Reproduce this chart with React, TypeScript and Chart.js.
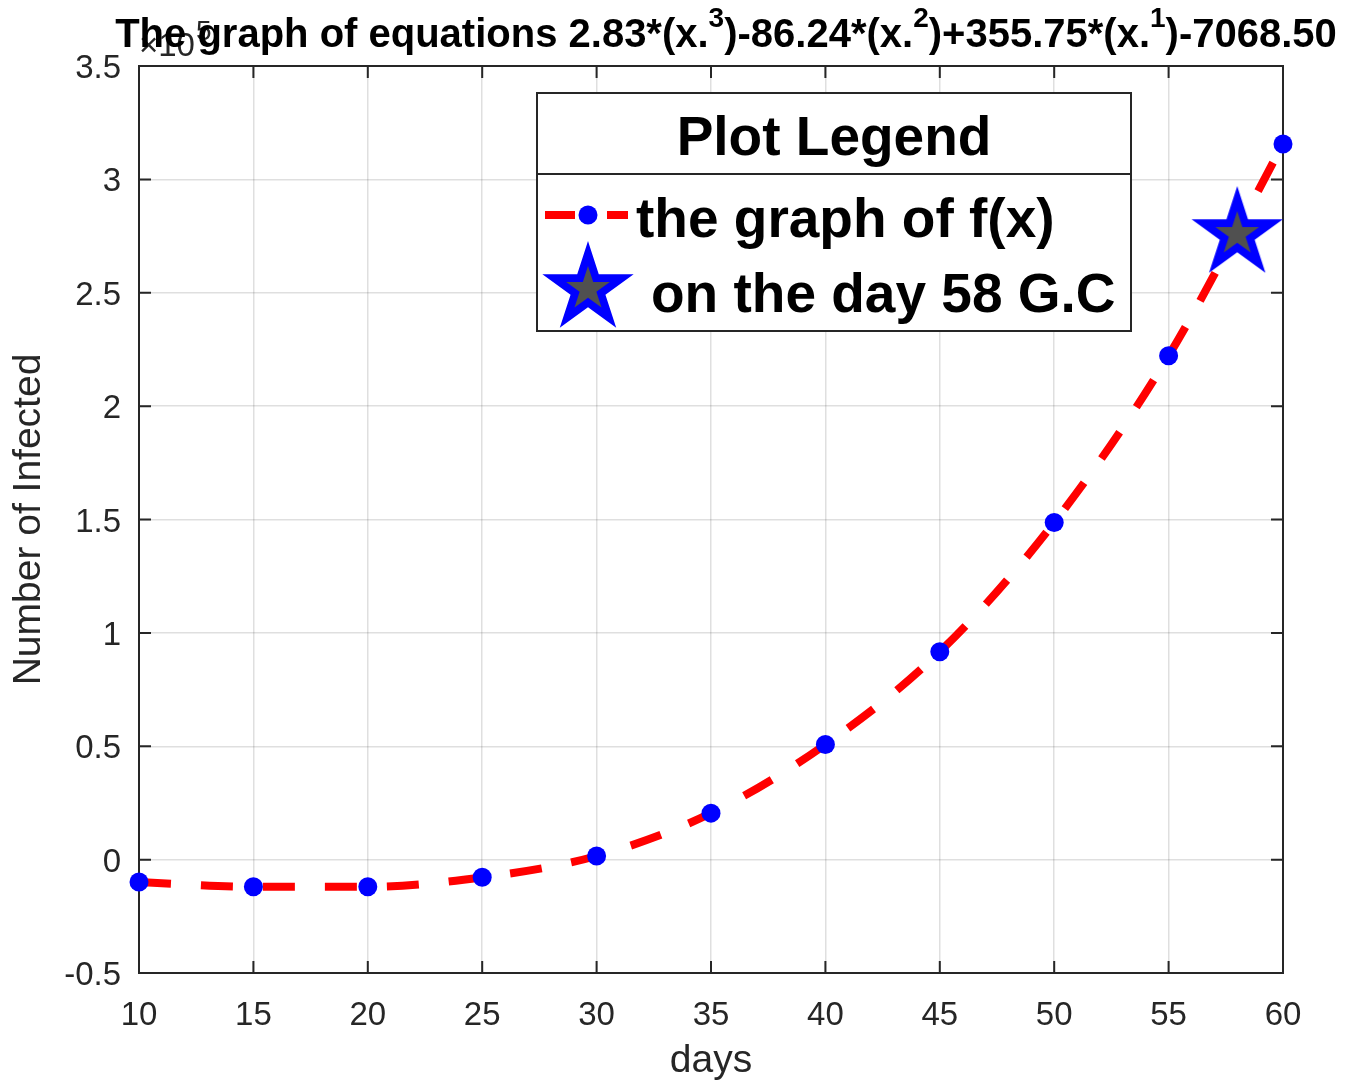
import React, { useEffect, useRef } from "react";
import { Chart, registerables } from "chart.js";

Chart.register(...registerables);

// ---- data ----
const days = [10, 15, 20, 25, 30, 35, 40, 45, 50, 55, 60];
const infected = [-9900, -12000, -12000, -7800, 1600, 20500, 50800, 91700, 148700, 222200, 315600];
const highlightDay = [58];
const highlightValue = [275900];

const xMin = 10;
const xMax = 60;
const xStep = 5;
const yMin = -50000;
const yMax = 350000;
const yStep = 50000;
const yScaleFactor = 100000;

const titleParts = [
  { t: "The graph of equations 2.83*(x.", sup: false },
  { t: "3", sup: true },
  { t: ")-86.24*(x.", sup: false },
  { t: "2", sup: true },
  { t: ")+355.75*(x.", sup: false },
  { t: "1", sup: true },
  { t: ")-7068.50", sup: false },
];
const exponentBase = "\u00d710";
const exponentPower = "5";
const legendTitle = "Plot Legend";
const seriesLabels = ["the graph of f(x)", "on the day 58 G.C"];
const xTitle = "days";
const yTitle = "Number of Infected";

// ---- styles ----
const FONT = '"Liberation Sans", Arial, Helvetica, sans-serif';
const AXIS = "#262626";
const RED = "#ff0000";
const BLUE = "#0000ff";
const GRAY = "#505050";

function starPath(ctx: CanvasRenderingContext2D, cx: number, cy: number, R: number, r: number) {
  ctx.beginPath();
  for (let i = 0; i < 10; i++) {
    const a = -Math.PI / 2 + (i * Math.PI) / 5;
    const rad = i % 2 === 0 ? R : r;
    const px = cx + rad * Math.cos(a);
    const py = cy + rad * Math.sin(a);
    if (i === 0) ctx.moveTo(px, py);
    else ctx.lineTo(px, py);
  }
  ctx.closePath();
}

function makeStar(): HTMLCanvasElement {
  const c = document.createElement("canvas");
  c.width = 110;
  c.height = 110;
  const g = c.getContext("2d")!;
  starPath(g, 55, 55, 48, 48 * 0.382);
  g.fillStyle = BLUE;
  g.fill();
  starPath(g, 55, 55, 23, 23 * 0.382);
  g.fillStyle = GRAY;
  g.fill();
  return c;
}

export default function App() {
  const ref = useRef<HTMLCanvasElement | null>(null);

  useEffect(() => {
    if (!ref.current) return;
    const star = makeStar();

    const framePlugin = {
      id: "frame",
      beforeDatasetsDraw(chart: any) {
        const { ctx, chartArea: a, scales } = chart;
        const tl = 12;
        ctx.save();
        ctx.strokeStyle = AXIS;
        ctx.lineWidth = 2;
        ctx.beginPath();
        scales.x.ticks.forEach((t: any) => {
          const px = scales.x.getPixelForValue(t.value);
          ctx.moveTo(px, a.bottom);
          ctx.lineTo(px, a.bottom - tl);
          ctx.moveTo(px, a.top);
          ctx.lineTo(px, a.top + tl);
        });
        scales.y.ticks.forEach((t: any) => {
          const py = scales.y.getPixelForValue(t.value);
          ctx.moveTo(a.left, py);
          ctx.lineTo(a.left + tl, py);
          ctx.moveTo(a.right, py);
          ctx.lineTo(a.right - tl, py);
        });
        ctx.stroke();
        ctx.strokeRect(a.left, a.top, a.right - a.left, a.bottom - a.top);
        ctx.restore();
      },
    };

    const annotPlugin = {
      id: "annot",
      afterDraw(chart: any) {
        const { ctx } = chart;
        ctx.save();
        // exponent label
        ctx.fillStyle = AXIS;
        ctx.textAlign = "left";
        ctx.textBaseline = "alphabetic";
        ctx.font = `33px ${FONT}`;
        ctx.fillText(exponentBase, 139, 56);
        const wb = ctx.measureText(exponentBase).width;
        ctx.font = `28px ${FONT}`;
        ctx.fillText(exponentPower, 139 + wb + 1, 40);

        // title
        ctx.fillStyle = "#000";
        const mainFont = `bold 40px ${FONT}`;
        const supFont = `bold 28px ${FONT}`;
        let total = 0;
        titleParts.forEach((p) => {
          ctx.font = p.sup ? supFont : mainFont;
          total += ctx.measureText(p.t).width;
        });
        let x = 726 - total / 2;
        titleParts.forEach((p) => {
          ctx.font = p.sup ? supFont : mainFont;
          ctx.fillText(p.t, x, p.sup ? 27 : 47);
          x += ctx.measureText(p.t).width;
        });

        // legend
        const bx = 537, by = 93, bw = 594, bh = 238, div = 174;
        ctx.fillStyle = "#fff";
        ctx.fillRect(bx, by, bw, bh);
        ctx.strokeStyle = AXIS;
        ctx.lineWidth = 2;
        ctx.strokeRect(bx, by, bw, bh);
        ctx.beginPath();
        ctx.moveTo(bx, div);
        ctx.lineTo(bx + bw, div);
        ctx.stroke();

        ctx.fillStyle = "#000";
        ctx.font = `bold 55px ${FONT}`;
        ctx.textAlign = "center";
        ctx.fillText(legendTitle, bx + bw / 2, 155);

        // item 1
        const ds = chart.data.datasets[1];
        ctx.strokeStyle = ds.borderColor;
        ctx.lineWidth = ds.borderWidth;
        ctx.setLineDash([30, 32]);
        ctx.lineCap = "butt";
        ctx.beginPath();
        ctx.moveTo(545, 215);
        ctx.lineTo(628, 215);
        ctx.stroke();
        ctx.setLineDash([]);
        ctx.fillStyle = ds.pointBackgroundColor;
        ctx.beginPath();
        ctx.arc(588, 215, ds.pointRadius, 0, Math.PI * 2);
        ctx.fill();

        ctx.fillStyle = "#000";
        ctx.textAlign = "left";
        ctx.font = `bold 55px ${FONT}`;
        ctx.fillText(seriesLabels[0], 636, 237);

        // item 2
        ctx.drawImage(star, 588 - star.width / 2, 289 - star.height / 2);
        ctx.fillText(seriesLabels[1], 651, 312);
        ctx.restore();
      },
    };

    const chart = new Chart(ref.current, {
      type: "line",
      data: {
        datasets: [
          {
            label: seriesLabels[1],
            data: highlightDay.map((d, i) => ({ x: d, y: highlightValue[i] })),
            showLine: false,
            pointStyle: star as any,
            pointRadius: 48,
            order: 0,
            clip: false as any,
          },
          {
            label: seriesLabels[0],
            data: days.map((d, i) => ({ x: d, y: infected[i] })),
            borderColor: RED,
            borderWidth: 8,
            borderDash: [32, 30],
            borderCapStyle: "butt",
            cubicInterpolationMode: "monotone",
            pointRadius: 9.5,
            pointBackgroundColor: BLUE,
            pointBorderColor: BLUE,
            pointBorderWidth: 0,
            fill: false,
            order: 1,
            clip: false as any,
          },
        ],
      },
      options: {
        animation: false,
        responsive: false,
        devicePixelRatio: 1,
        events: [],
        layout: { padding: { top: 66, right: 71, left: 0, bottom: 0 } },
        plugins: {
          legend: { display: false },
          tooltip: { enabled: false },
          title: { display: false },
        },
        scales: {
          x: {
            type: "linear",
            min: xMin,
            max: xMax,
            ticks: {
              stepSize: xStep,
              autoSkip: false,
              maxRotation: 0,
              color: AXIS,
              padding: 23,
              font: { family: FONT, size: 33 },
            },
            grid: { color: "rgba(38,38,38,0.15)", lineWidth: 1.5, drawTicks: false },
            border: { display: false },
            title: {
              display: true,
              text: xTitle,
              color: AXIS,
              font: { family: FONT, size: 39 },
              padding: { top: 0, bottom: 0 },
            },
            afterFit: (s: any) => {
              s.height = 112;
            },
          },
          y: {
            type: "linear",
            min: yMin,
            max: yMax,
            ticks: {
              stepSize: yStep,
              autoSkip: false,
              color: AXIS,
              padding: 18,
              labelOffset: 3,
              font: { family: FONT, size: 33 },
              callback: (v: any) => String(Math.round((Number(v) / yScaleFactor) * 10) / 10),
            },
            grid: { color: "rgba(38,38,38,0.15)", lineWidth: 1.5, drawTicks: false },
            border: { display: false },
            title: {
              display: true,
              text: yTitle,
              color: AXIS,
              font: { family: FONT, size: 39 },
              padding: { top: 6, bottom: 0 },
            },
            afterFit: (s: any) => {
              s.width = 139;
            },
          },
        },
      } as any,
      plugins: [framePlugin, annotPlugin],
    });

    return () => chart.destroy();
  }, []);

  return (
    <div style={{ position: "fixed", left: 0, top: 0, width: 1354, height: 1085, background: "#fff" }}>
      <canvas ref={ref} width={1354} height={1085} />
    </div>
  );
}
